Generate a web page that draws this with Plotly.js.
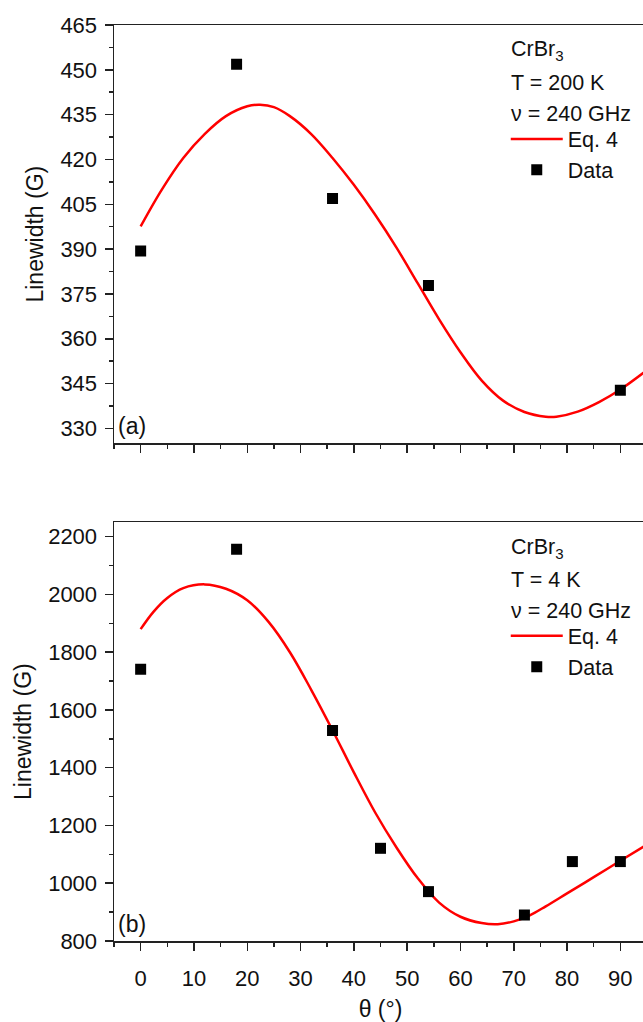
<!DOCTYPE html>
<html>
<head>
<meta charset="utf-8">
<script src="https://cdn.plot.ly/plotly-3.0.1.min.js"></script>
<style>
html,body{margin:0;padding:0;overflow:hidden;background:#fff;}
#chart{width:680px;height:1022px;}
</style>
</head>
<body>
<div id="chart"></div>
<script>
// ---- Panel (a): T = 200 K ----
const dataA_theta = [0, 18, 36, 54, 90];
const dataA_width = [389.4, 451.9, 406.9, 377.8, 342.8];
const fitA_theta = [0, 4, 8, 12, 16, 20, 22.4, 25, 28, 32, 36, 40, 44, 48, 52, 56, 60, 64, 68, 72, 76, 78, 82, 86, 90, 95];
const fitA_width = [397.6, 410, 420.5, 428.5, 434.5, 437.8, 438.3, 437.5, 434.5, 428.5, 420.5, 411.5, 401.5, 390.5, 378.5, 366.5, 355.5, 346, 339.3, 335.5, 333.9, 333.9, 335.6, 338.8, 343, 349.5];

// ---- Panel (b): T = 4 K ----
const dataB_theta = [0, 18, 36, 45, 54, 72, 81, 90];
const dataB_width = [1741, 2157, 1529, 1121, 971, 890, 1075, 1075];
const fitB_theta = [0, 2.4, 5, 8, 12, 16, 20, 24, 28, 32, 36, 40, 44, 48, 52, 56, 60, 64, 67, 70, 73, 76, 80, 85, 90, 95];
const fitB_width = [1880, 1940, 1988, 2022, 2035, 2020, 1980, 1905, 1800, 1670, 1530, 1384, 1245, 1124, 1017, 933, 884, 862, 858, 868, 889, 920, 965, 1021, 1078, 1134];

const xTickVals = [0, 10, 20, 30, 40, 50, 60, 70, 80, 90];
const yTicksA = [330, 345, 360, 375, 390, 405, 420, 435, 450, 465];
const yTicksB = [800, 1000, 1200, 1400, 1600, 1800, 2000, 2200];

const labelsA = ["CrBr<sub>3</sub>", "T = 200 K", "\u03BD = 240 GHz"];
const labelsB = ["CrBr<sub>3</sub>", "T = 4 K", "\u03BD = 240 GHz"];
const seriesNames = ["Eq. 4", "Data"];

const FONT = "Liberation Sans, Arial, sans-serif";
const AX = '#222';
const TXT = '#111';

const traces = [
  {x: fitA_theta, y: fitA_width, xaxis:'x', yaxis:'y', mode:'lines', name: seriesNames[0],
   line:{color:'#ff0000', width:2.5, shape:'spline', smoothing:1}, legend:'legend'},
  {x: dataA_theta, y: dataA_width, xaxis:'x', yaxis:'y', mode:'markers', name: seriesNames[1],
   marker:{symbol:'square', color:'#000', size:11}, legend:'legend'},
  {x: fitB_theta, y: fitB_width, xaxis:'x2', yaxis:'y2', mode:'lines', name: seriesNames[0],
   line:{color:'#ff0000', width:2.5, shape:'spline', smoothing:1}, legend:'legend2'},
  {x: dataB_theta, y: dataB_width, xaxis:'x2', yaxis:'y2', mode:'markers', name: seriesNames[1],
   marker:{symbol:'square', color:'#000', size:11}, legend:'legend2'}
];

function xAxis(anchor, showLabels){
  return {
    anchor: anchor, domain:[0,1], range:[-5,95],
    tickmode:'array', tickvals: xTickVals, ticktext: xTickVals.map(String),
    showticklabels: showLabels,
    ticks:'outside', ticklen:8, tickwidth:1.5, tickcolor:AX,
    minor:{dtick:5, tick0:-5, ticks:'outside', ticklen:4, tickwidth:1.5, tickcolor:AX, showgrid:false},
    showline:true, linewidth:1.5, linecolor:AX, mirror:true,
    showgrid:false, zeroline:false,
    tickfont:{family:FONT, size:22, color:TXT},
    ticklabelstandoff: 9
  };
}
function yAxis(anchor, domain, range, tickvals, minorStep){
  return {
    anchor: anchor, domain: domain, range: range,
    tickmode:'array', tickvals: tickvals, ticktext: tickvals.map(String),
    ticks:'outside', ticklen:8, tickwidth:1.5, tickcolor:AX,
    minor:{dtick:minorStep, tick0:tickvals[0], ticks:'outside', ticklen:4, tickwidth:1.5, tickcolor:AX, showgrid:false},
    showline:true, linewidth:1.5, linecolor:AX, mirror:true,
    showgrid:false, zeroline:false,
    tickfont:{family:FONT, size:22, color:TXT},
    ticklabelstandoff: 3,
    title:{text:'Linewidth (G)', font:{family:FONT, size:23, color:TXT}, standoff:10}
  };
}

const xa = xAxis('y', false);
const xb = xAxis('y2', true);
xb.title = {text:'\u03B8 (\u00B0)', font:{family:FONT, size:23, color:TXT}, standoff:12};

function panelAnnots(xref, yref, labels, tag){
  const ys = [0.938, 0.8614, 0.7873];
  const out = labels.map((t,i)=>({
    xref: xref+' domain', yref: yref+' domain', x:0.741, y: ys[i],
    xanchor:'left', yanchor:'middle', showarrow:false, text:t,
    font:{family:FONT, size:21.5, color:TXT}
  }));
  out.push({xref: xref+' domain', yref: yref+' domain', x:0, y:0, xanchor:'left', yanchor:'bottom',
    xshift:2, yshift:2, showarrow:false, text:tag, font:{family:FONT, size:23, color:TXT}});
  return out;
}

const legendBase = {xanchor:'left', yanchor:'top', bgcolor:'rgba(0,0,0,0)', borderwidth:0,
  font:{family:FONT, size:21.5, color:TXT}, itemwidth:52, tracegroupgap:0, traceorder:'normal'};

const layout = {
  width:680, height:1022,
  margin:{l:114, r:33, t:25, b:81},
  paper_bgcolor:'#fff', plot_bgcolor:'#fff',
  font:{family:FONT, size:21, color:TXT},
  showlegend:true,
  xaxis: xa, yaxis: yAxis('x', [0.5433, 1], [325, 465], yTicksA, 7.5),
  xaxis2: xb, yaxis2: yAxis('x2', [0, 0.4571], [800, 2250], yTicksB, 100),
  legend: Object.assign({}, legendBase, {x:0.735, y:0.898}),
  legend2: Object.assign({}, legendBase, {x:0.735, y:0.3555}),
  annotations: panelAnnots('x','y',labelsA,'(a)').concat(panelAnnots('x2','y2',labelsB,'(b)'))
};

Plotly.newPlot('chart', traces, layout, {staticPlot:true, displayModeBar:false});
</script>
</body>
</html>
